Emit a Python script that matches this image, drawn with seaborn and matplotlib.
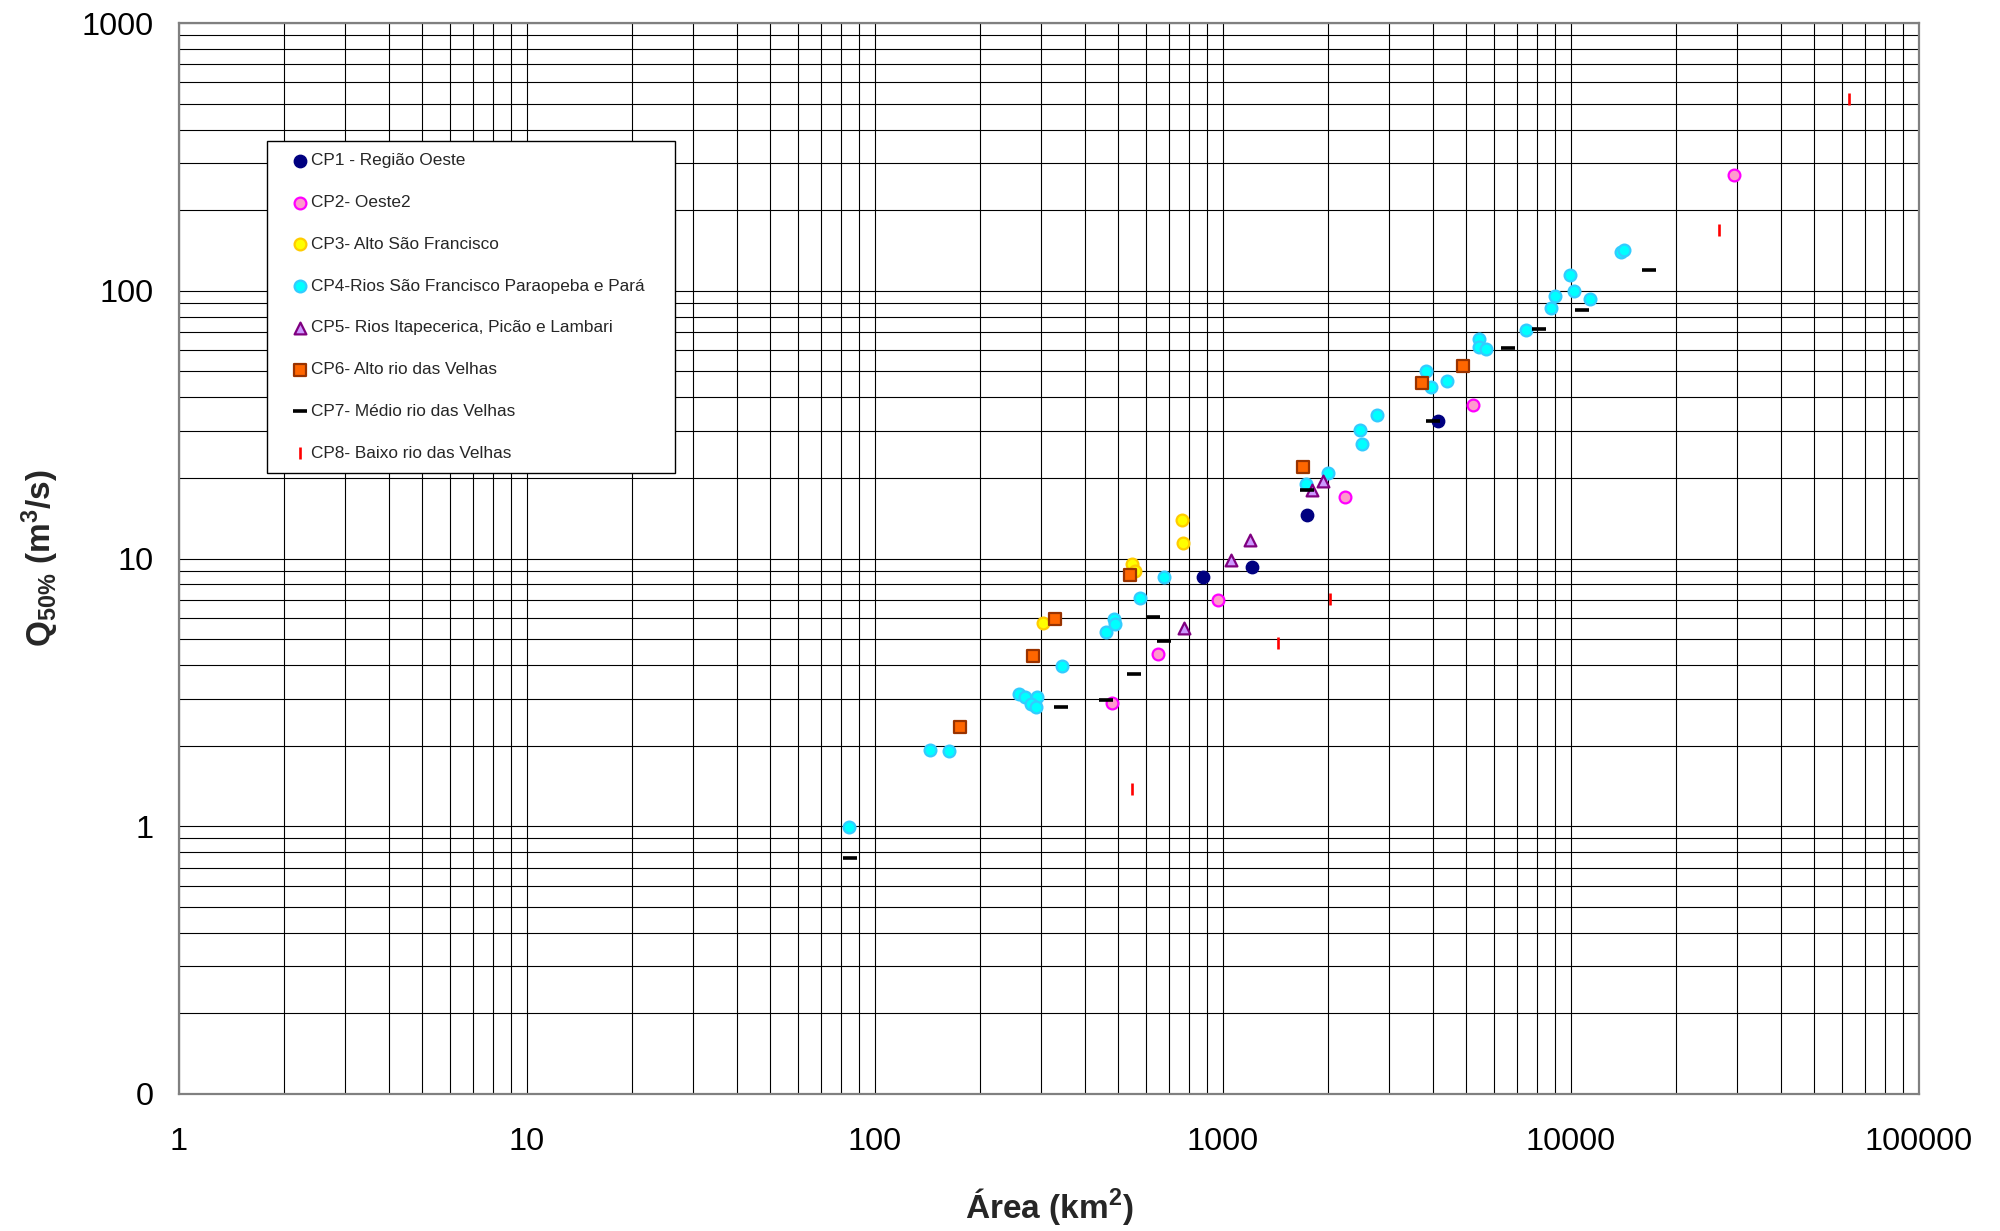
import pandas as pd
import matplotlib
matplotlib.use("Agg")
import matplotlib.pyplot as plt
import matplotlib.ticker as mticker
import seaborn as sns

# valores (area km2, Q50% m3/s)
cp1_area = [878, 1209, 1743, 4150]
cp1_q = [8.5, 9.3, 14.6, 32.7]

cp2_area = [481, 652, 966, 2242, 5240, 29400]
cp2_q = [2.89, 4.41, 7.0, 17.0, 37.3, 270]

cp3_area = [303, 548, 560, 764, 768]
cp3_q = [5.74, 9.5, 9.0, 13.9, 11.4]

cp4_area = [84, 144, 163, 259, 270, 293, 280, 291, 345, 461, 485, 490, 579, 675,
            1728, 2003, 2475, 2508, 2765, 3824, 3953, 4393, 5440, 5430, 5698,
            7410, 8746, 9015, 9955, 10200, 11320, 13900, 14230]
cp4_q = [0.99, 1.92, 1.91, 3.12, 3.03, 3.05, 2.86, 2.80, 3.97, 5.33, 5.93, 5.69, 7.1, 8.55,
         18.9, 20.9, 30.1, 26.8, 34.3, 50.1, 43.6, 46.1, 65.9, 61.8, 60.6,
         71.5, 86.0, 95.6, 115, 100, 93.4, 140, 142]

cp5_area = [771, 1056, 1198, 1805, 1934]
cp5_q = [5.49, 9.87, 11.7, 18.0, 19.5]

cp6_area = [175, 284, 330, 541, 1701, 3731, 4885]
cp6_q = [2.35, 4.31, 5.96, 8.65, 22.0, 45.1, 52.2]

cp7_area = [85, 342, 461, 555, 628, 678, 1740, 4020, 6578, 8107, 10760, 16790]
cp7_q = [0.76, 2.79, 2.95, 3.69, 6.05, 4.93, 18.0, 32.7, 61.0, 71.8, 84.8, 120]

cp8_area = [546, 1442, 2030, 26680, 62810]
cp8_q = [1.38, 4.85, 7.03, 168.6, 522]

grupos = [
    "CP1 - Região Oeste",
    "CP2- Oeste2",
    "CP3- Alto São Francisco",
    "CP4-Rios São Francisco Paraopeba e Pará",
    "CP5- Rios Itapecerica, Picão e Lambari",
    "CP6- Alto rio das Velhas",
    "CP7- Médio rio das Velhas",
    "CP8- Baixo rio das Velhas",
]
areas = [cp1_area, cp2_area, cp3_area, cp4_area, cp5_area, cp6_area, cp7_area, cp8_area]
vazoes = [cp1_q, cp2_q, cp3_q, cp4_q, cp5_q, cp6_q, cp7_q, cp8_q]

df = pd.concat(
    [pd.DataFrame({"area": a, "q": q, "grupo": g}) for g, a, q in zip(grupos, areas, vazoes)],
    ignore_index=True,
)

estilos = {
    grupos[0]: dict(marker="o", color="#000080", edgecolor="#000080", s=80, linewidth=1.0),
    grupos[1]: dict(marker="o", color="#FF99CC", edgecolor="#FF00FF", s=72, linewidth=1.6),
    grupos[2]: dict(marker="o", color="#FFFF00", edgecolor="#FFCC00", s=72, linewidth=1.6),
    grupos[3]: dict(marker="o", color="#00FFFF", edgecolor="#33CCFF", s=72, linewidth=1.6),
    grupos[4]: dict(marker="^", color="#CC99FF", edgecolor="#800080", s=72, linewidth=1.6),
    grupos[5]: dict(marker="s", color="#FF6600", edgecolor="#993300", s=64, linewidth=1.6),
    grupos[6]: dict(marker="_", color="black", edgecolor="black", s=95, linewidth=2.6),
    grupos[7]: dict(marker="|", color="red", edgecolor="red", s=80, linewidth=1.9),
}

sns.set_theme(style="white")
plt.rcParams["font.family"] = ["Liberation Sans", "DejaVu Sans"]
plt.rcParams["mathtext.fontset"] = "custom"
plt.rcParams["mathtext.rm"] = "Liberation Sans"
plt.rcParams["mathtext.it"] = "Liberation Sans:italic"
plt.rcParams["mathtext.bf"] = "Liberation Sans:bold"

fig = plt.figure(figsize=(20, 12.31), dpi=100)
ax = fig.add_axes([0.0895, 0.1113, 0.87, 0.870])

for g in grupos:
    sub = df[df.grupo == g]
    sns.scatterplot(data=sub, x="area", y="q", ax=ax, label=g, zorder=3, **estilos[g])

ax.set_xscale("log")
ax.set_yscale("log")
ax.set_xlim(1, 100000)
ax.set_ylim(0.1, 1000)

ax.xaxis.set_major_locator(mticker.LogLocator(base=10, numticks=10))
ax.yaxis.set_major_locator(mticker.LogLocator(base=10, numticks=10))
ax.xaxis.set_minor_locator(mticker.LogLocator(base=10, subs=range(2, 10), numticks=20))
ax.yaxis.set_minor_locator(mticker.LogLocator(base=10, subs=range(2, 10), numticks=20))
fmt = mticker.FuncFormatter(lambda v, p: f"{v:.0f}")
ax.xaxis.set_major_formatter(fmt)
ax.yaxis.set_major_formatter(fmt)
ax.xaxis.set_minor_formatter(mticker.NullFormatter())
ax.yaxis.set_minor_formatter(mticker.NullFormatter())

ax.set_axisbelow(True)
ax.grid(True, which="both", color="black", linewidth=0.8)
for sp in ax.spines.values():
    sp.set_color("#808080")
    sp.set_linewidth(1.6)

ax.tick_params(axis="both", which="major", direction="out", length=7.5, width=1,
               color="#808080", labelsize=23.4, labelcolor="black")
ax.tick_params(axis="x", which="major", pad=16)
ax.tick_params(axis="y", which="major", pad=11)
ax.tick_params(axis="both", which="minor", length=0)

ax.set_xlabel("Área (km$^{\\mathbf{2}}$)", fontsize=24, fontweight="bold")
ax.set_ylabel("Q$_{\\mathbf{50\\%}}$ (m$^{\\mathbf{3}}$/s)", fontsize=24, fontweight="bold")
ax.xaxis.set_label_coords(0.5, -0.086)
ax.yaxis.set_label_coords(-0.068, 0.5)

leg = ax.legend(loc="upper left", bbox_to_anchor=(0.0504, 0.58, 0.2347, 0.31), mode="expand",
                borderaxespad=0, fontsize=12.4, labelspacing=1.55, borderpad=0.72,
                handlelength=2.45, handletextpad=-0.62, frameon=True, fancybox=False,
                framealpha=1, edgecolor="black")
leg.get_frame().set_linewidth(1.0)

fig.savefig("out.png", dpi=100)
